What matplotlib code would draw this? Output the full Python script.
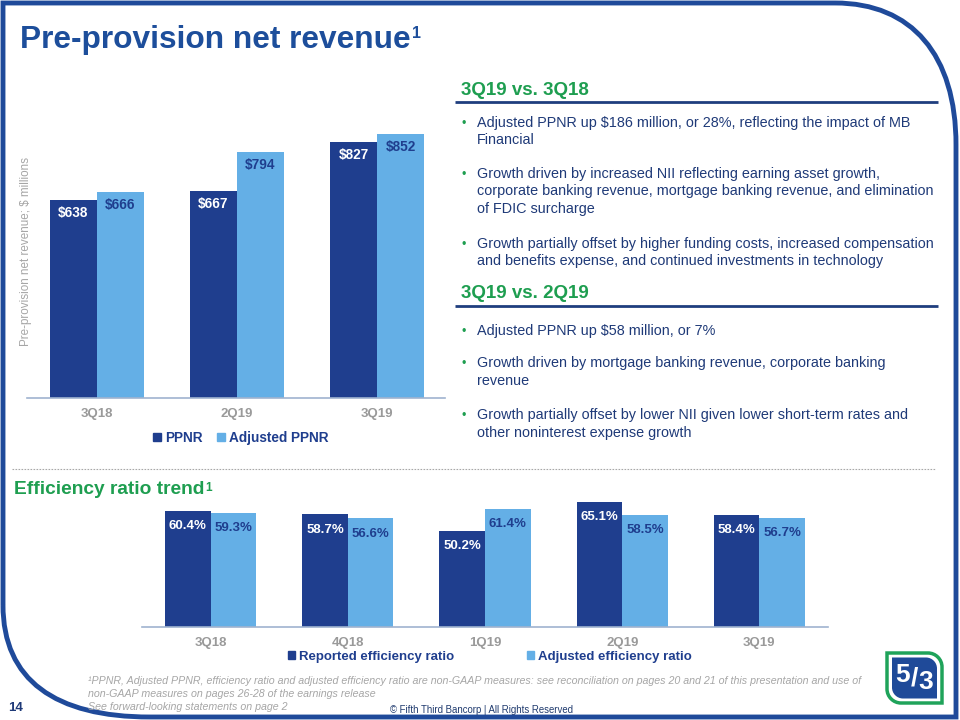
import matplotlib
matplotlib.use('Agg')
import matplotlib.pyplot as plt
from matplotlib.patches import Patch, PathPatch
from matplotlib.path import Path
import numpy as np

plt.rcParams['font.family'] = ['Liberation Sans', 'DejaVu Sans']

# ---------------- data ----------------
ppnr_cats = ['3Q18', '2Q19', '3Q19']
ppnr = [638, 667, 827]
adj_ppnr = [666, 794, 852]

eff_cats = ['3Q18', '4Q18', '1Q19', '2Q19', '3Q19']
eff_reported = [60.4, 58.7, 50.2, 65.1, 58.4]
eff_adjusted = [59.3, 56.6, 61.4, 58.5, 56.7]

# ---------------- styles ----------------
NAVY = '#1F3E8E'
LIGHT = '#64AFE6'
TITLE = '#1D4E9B'
GREEN = '#1E9E50'
TEXT = '#1F3A78'
GRAY = '#9A9A9A'
FRAME = '#1F4A9A'
AXIS = '#9FB3CF'

W, H = 960, 720
fig = plt.figure(figsize=(9.6, 7.2), dpi=100)

bg = fig.add_axes([0, 0, 1, 1], zorder=0)
bg.set_xlim(0, W)
bg.set_ylim(H, 0)
bg.axis('off')

# ---------------- frame ----------------
verts = [(3, 605), (3, 3), (835, 3),
         (912, 3), (956, 55), (956, 145),
         (956, 717), (150, 717),
         (55, 717), (3, 680), (3, 605)]
codes = [Path.MOVETO, Path.LINETO, Path.LINETO,
         Path.CURVE4, Path.CURVE4, Path.CURVE4,
         Path.LINETO, Path.LINETO,
         Path.CURVE4, Path.CURVE4, Path.CURVE4]
bg.add_patch(PathPatch(Path(verts, codes), fill=False, edgecolor=FRAME, lw=3.5))

# ---------------- title ----------------
renderer = fig.canvas.get_renderer()
t = bg.text(20, 48, 'Pre-provision net revenue', fontsize=22.8, fontweight='bold',
            color=TITLE, va='baseline', ha='left')
bb = t.get_window_extent(renderer)
bg.text(bb.x1 + 1, 26, '1', fontsize=11.5, fontweight='bold', color=TITLE, va='top', ha='left')

# ---------------- top chart ----------------
ax1 = fig.add_axes([27 / W, (H - 398) / H, 418 / W, 310 / H], zorder=1)
ax1.patch.set_alpha(0)
x1 = np.arange(len(ppnr_cats))
w1 = 0.336
ax1.bar(x1 - w1 / 2, ppnr, w1, color=NAVY)
ax1.bar(x1 + w1 / 2, adj_ppnr, w1, color=LIGHT)
for xi, v in zip(x1, ppnr):
    ax1.annotate(f'${v}', (xi - w1 / 2, v), xytext=(0, -9.5), textcoords='offset points',
                 ha='center', va='center', color='white', fontweight='bold', fontsize=9.8)
for xi, v in zip(x1, adj_ppnr):
    ax1.annotate(f'${v}', (xi + w1 / 2, v), xytext=(0, -9.5), textcoords='offset points',
                 ha='center', va='center', color=NAVY, fontweight='bold', fontsize=9.8)
ax1.set_xlim(-0.5, 2.486)
ax1.set_ylim(0, 1000)
ax1.set_xticks(x1)
ax1.set_xticklabels(ppnr_cats, color=GRAY, fontweight='bold', fontsize=9.5)
ax1.tick_params(axis='x', length=0, pad=7)
ax1.set_yticks([])
for s in ['top', 'right', 'left']:
    ax1.spines[s].set_visible(False)
ax1.spines['bottom'].set_color(AXIS)
ax1.spines['bottom'].set_linewidth(1.2)
ax1.text(-0.002, (398 - 251) / 310, 'Pre-provision net revenue; $ millions', transform=ax1.transAxes,
         rotation=90, ha='center', va='center', color='#A6A6A6', fontsize=8.4)
ax1.legend(handles=[Patch(color=NAVY, label='PPNR'), Patch(color=LIGHT, label='Adjusted PPNR')],
           loc='center', bbox_to_anchor=(241 / W, 1 - 438 / H), bbox_transform=fig.transFigure,
           ncol=2, frameon=False, handlelength=0.55, handleheight=0.55, handletextpad=0.3,
           columnspacing=1.1, prop={'weight': 'bold', 'size': 9.8}, labelcolor=NAVY)

# ---------------- right-hand text ----------------
def heading(y, s):
    bg.text(461, y, s, fontsize=13.5, fontweight='bold', color=GREEN, va='baseline', ha='left')

def underline(y):
    bg.plot([455, 938], [y, y], color='#1F3E7E', lw=2, solid_capstyle='butt')

def bullet_block(lines):
    for y, s, first in lines:
        if first:
            bg.text(462, y, '•', fontsize=9, color=GREEN, va='baseline', ha='left')
        bg.text(477, y, s, fontsize=10.35, color=TEXT, va='baseline', ha='left')

heading(95, '3Q19 vs. 3Q18')
underline(102)
bullet_block([
    (127, 'Adjusted PPNR up $186 million, or 28%, reflecting the impact of MB', True),
    (144.5, 'Financial', False),
    (178, 'Growth driven by increased NII reflecting earning asset growth,', True),
    (195.5, 'corporate banking revenue, mortgage banking revenue, and elimination', False),
    (213, 'of FDIC surcharge', False),
    (248, 'Growth partially offset by higher funding costs, increased compensation', True),
    (265.5, 'and benefits expense, and continued investments in technology', False),
])

heading(298, '3Q19 vs. 2Q19')
underline(306)
bullet_block([
    (335, 'Adjusted PPNR up $58 million, or 7%', True),
    (367, 'Growth driven by mortgage banking revenue, corporate banking', True),
    (385, 'revenue', False),
    (419, 'Growth partially offset by lower NII given lower short-term rates and', True),
    (437, 'other noninterest expense growth', False),
])

# ---------------- separator ----------------
bg.plot([12, 935], [469, 469], color='#A8A8A8', lw=0.8, linestyle=(0, (1.5, 1.2)))

# ---------------- efficiency heading ----------------
t2 = bg.text(14, 494, 'Efficiency ratio trend', fontsize=13.8, fontweight='bold', color=GREEN,
             va='baseline', ha='left')
bb2 = t2.get_window_extent(renderer)
bg.text(bb2.x1 + 1, 482, '1', fontsize=8.5, fontweight='bold', color=GREEN, va='top', ha='left')

# ---------------- bottom chart ----------------
ax2 = fig.add_axes([142 / W, (H - 627) / H, 686 / W, 134.4 / H], zorder=1)
ax2.patch.set_alpha(0)
x2 = np.arange(len(eff_cats))
w2 = 0.332
ax2.bar(x2 - w2 / 2, eff_reported, w2, color=NAVY)
ax2.bar(x2 + w2 / 2, eff_adjusted, w2, color=LIGHT)
for xi, v in zip(x2, eff_reported):
    ax2.annotate(f'{v:.1f}%', (xi - w2 / 2, v), xytext=(0, -11), textcoords='offset points',
                 ha='center', va='center', color='white', fontweight='bold', fontsize=9.5)
for xi, v in zip(x2, eff_adjusted):
    ax2.annotate(f'{v:.1f}%', (xi + w2 / 2, v), xytext=(0, -11), textcoords='offset points',
                 ha='center', va='center', color=NAVY, fontweight='bold', fontsize=9.5)
ax2.set_xlim(-0.5, 4.5)
ax2.set_ylim(0, 70)
ax2.set_xticks(x2)
ax2.set_xticklabels(eff_cats, color=GRAY, fontweight='bold', fontsize=9.5)
ax2.tick_params(axis='x', length=0, pad=7)
ax2.set_yticks([])
for s in ['top', 'right', 'left']:
    ax2.spines[s].set_visible(False)
ax2.spines['bottom'].set_color(AXIS)
ax2.spines['bottom'].set_linewidth(1.2)
ax2.legend(handles=[Patch(color=NAVY, label='Reported efficiency ratio'),
                    Patch(color=LIGHT, label='Adjusted efficiency ratio')],
           loc='center', bbox_to_anchor=(490 / W, 1 - 657 / H), bbox_transform=fig.transFigure,
           ncol=2, frameon=False, handlelength=0.55, handleheight=0.55, handletextpad=0.3,
           columnspacing=5.5, prop={'weight': 'bold', 'size': 9.5}, labelcolor=NAVY)

# ---------------- footer ----------------
FOOT = '#A6A6A6'
bg.text(88, 684, '¹PPNR, Adjusted PPNR, efficiency ratio and adjusted efficiency ratio are non-GAAP measures: '
        'see reconciliation on pages 20 and 21 of this presentation and use of',
        fontsize=7.7, style='italic', color=FOOT, va='baseline', ha='left')
bg.text(88, 697, 'non-GAAP measures on pages 26-28 of the earnings release',
        fontsize=7.7, style='italic', color=FOOT, va='baseline', ha='left')
bg.text(88, 710, 'See forward-looking statements on page 2',
        fontsize=7.7, style='italic', color=FOOT, va='baseline', ha='left')
bg.text(8, 711, '14', fontsize=9.5, fontweight='bold', color=TEXT, va='baseline', ha='left')
bg.text(390, 713, '© Fifth Third Bancorp | All Rights Reserved', fontsize=6.9, color='#1F3A6E',
        va='baseline', ha='left')

# ---------------- logo ----------------
def leaf(x0, y0, x1, y1, r):
    k = 0.55
    v = [(x0, y0), (x1 - r, y0), (x1 - r + r * k, y0), (x1, y0 + r - r * k), (x1, y0 + r),
         (x1, y1), (x0 + r, y1), (x0 + r - r * k, y1), (x0, y1 - r + r * k), (x0, y1 - r), (x0, y0)]
    c = [Path.MOVETO, Path.LINETO, Path.CURVE4, Path.CURVE4, Path.CURVE4,
         Path.LINETO, Path.LINETO, Path.CURVE4, Path.CURVE4, Path.CURVE4, Path.CLOSEPOLY]
    return Path(v, c)

bg.add_patch(PathPatch(leaf(887, 653, 942, 703, 14), facecolor='white', edgecolor='#1FA35A', lw=2.5))
bg.add_patch(PathPatch(leaf(892, 657.5, 937, 698.5, 11), facecolor='#1F4A99', edgecolor='none'))
bg.text(903, 675, '5', fontsize=19, fontweight='bold', color='white', ha='center', va='center')
bg.text(914.5, 678, '/', fontsize=19, fontweight='bold', color='white', ha='center', va='center')
bg.text(926, 682, '3', fontsize=19, fontweight='bold', color='white', ha='center', va='center')

fig.savefig('out.png', dpi=100)
